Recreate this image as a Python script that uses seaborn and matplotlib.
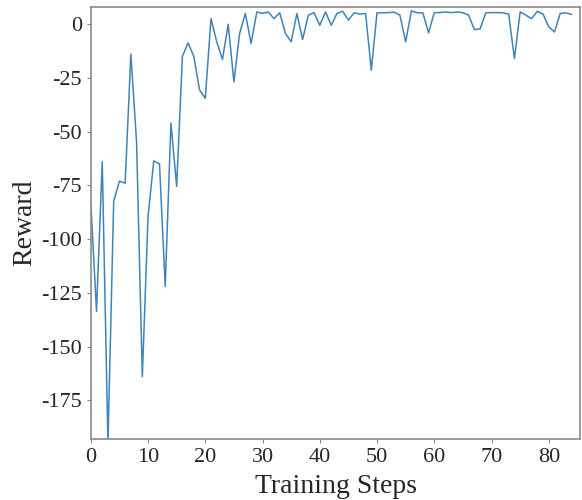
import matplotlib
matplotlib.use("Agg")
import matplotlib.pyplot as plt
import seaborn as sns
import pandas as pd

steps = list(range(85))
reward = [
    -83, -133.6, -64, -195, -82.5, -73, -74, -14, -55, -164,
    -89.5, -63.6, -65, -122, -46, -75.5, -15, -8.7, -15, -30.6,
    -34.5, 2.6, -8.2, -16.4, 0, -26.8, -4.3, 5, -9, 5.7,
    5, 5.7, 2.6, 5.3, -4.3, -8.2, 5, -7.1, 4.2, 5.4,
    -0.5, 5.7, -0.5, 5, 6, 1.9, 5.3, 4.7, 5, -21.4,
    5.3, 5.3, 5.4, 5.6, 4.2, -8.2, 6.2, 5.3, 5.3, -4,
    5.4, 5.4, 5.7, 5.4, 5.7, 5.3, 4.2, -2.5, -2.2, 5.3,
    5.4, 5.4, 5.3, 4.7, -16, 5.7, 4.2, 2.6, 6, 4.7,
    -1.2, -3.6, 5, 5.3, 4.5,
]
xticks = [0, 10, 20, 30, 40, 50, 60, 70, 80]
yticks = [0, -25, -50, -75, -100, -125, -150, -175]

df = pd.DataFrame({"Training Steps": steps, "Reward": reward})

sns.set_style("ticks")
plt.rcParams["font.family"] = ["Liberation Serif", "DejaVu Serif"]
plt.rcParams["axes.unicode_minus"] = False

fig = plt.figure(figsize=(5.82, 5.0), dpi=100)
ax = fig.add_axes([0.156, 0.122, 0.841, 0.864])
sns.lineplot(data=df, x="Training Steps", y="Reward", ax=ax,
             color="#3f84b8", linewidth=1.1)

ax.set_xlim(0, 85.5)
ax.set_ylim(-193, 8)
ax.set_xticks(xticks)
ax.set_yticks(yticks)
ax.tick_params(axis="both", labelsize=16, length=3, color="#888888", width=0.8)
ax.set_xlabel("Training Steps", fontsize=20, labelpad=5)
ax.set_ylabel("Reward", fontsize=20, labelpad=3)
for s in ax.spines.values():
    s.set_visible(True)
    s.set_color("#8a8a8a")
    s.set_linewidth(1.2)

fig.savefig("out.png", dpi=100)
